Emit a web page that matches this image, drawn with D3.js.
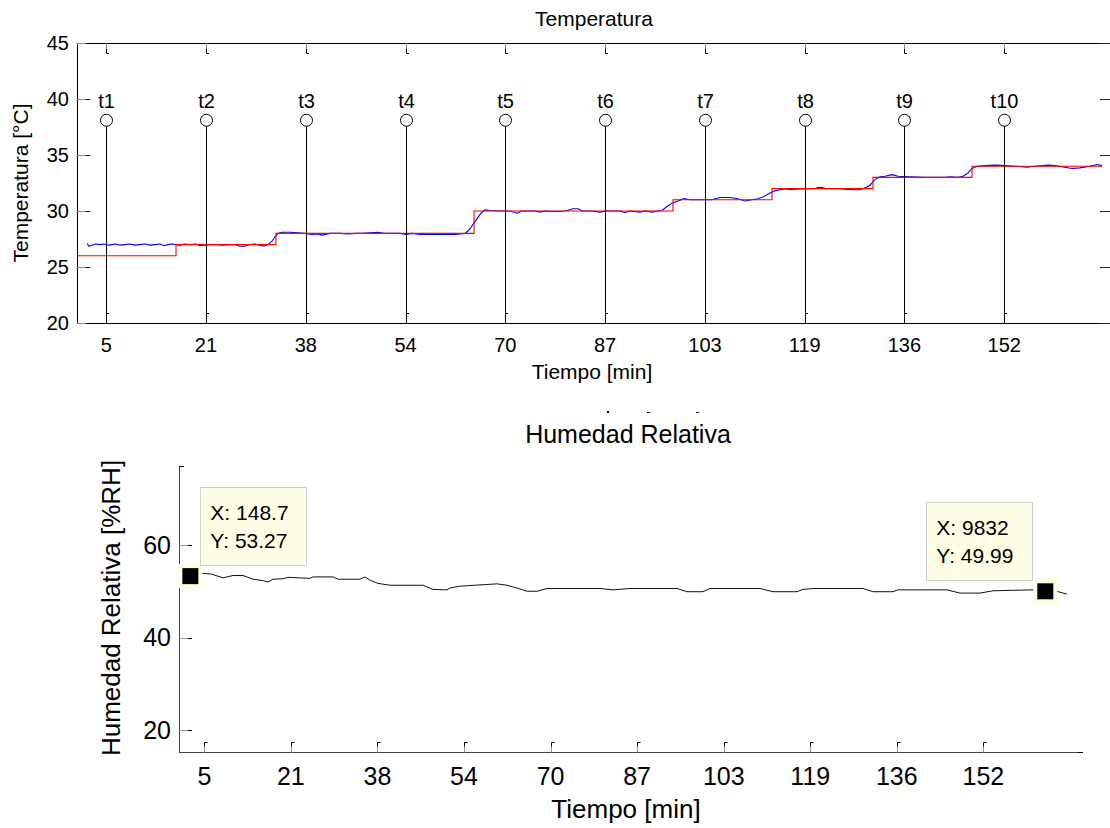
<!DOCTYPE html>
<html><head><meta charset="utf-8">
<script src="https://cdn.jsdelivr.net/npm/d3@7/dist/d3.min.js"></script>
<style>
body{margin:0;background:#fff}
svg{display:block;font-family:"Liberation Sans",Arial,Helvetica,sans-serif}
</style>
</head><body>
<svg id="c" width="1110" height="828"></svg>
<script>
// ---------- data ----------
const tickIdx = [307,1287,2268,3248,4229,5209,6190,7170,8150,9131];
const tickLabels = ["5","21","38","54","70","87","103","119","136","152"];
const stemLabels = ["t1","t2","t3","t4","t5","t6","t7","t8","t9","t10"];
const stemValue = 38.1;
const tempTicks = [20,25,30,35,40,45];
const humTicks = [20,40,60];

const setIdx = [20,993,1975,3921,5876,6849,7841,8814,10091];
const setVal = [26,27,28,30,31,32,33,34,34];

const tempIdx = [118,138,167,207,246,285,325,364,403,442,492,541,590,639,688,737,786,835,875,914,953,993,1032,1081,1130,1189,1228,1268,1327,1405,1445,1504,1572,1621,1671,1720,1769,1818,1857,1897,1936,1965,1995,2034,2113,2191,2260,2329,2388,2427,2506,2604,2683,2751,2820,2899,2977,3036,3193,3252,3311,3390,3488,3586,3734,3832,3871,3911,3950,3989,4029,4078,4176,4274,4343,4392,4520,4569,4618,4716,4815,4893,4942,4982,5080,5159,5218,5355,5404,5453,5552,5601,5670,5729,5768,5817,5866,5925,5984,6043,6141,6259,6338,6436,6514,6583,6652,6711,6770,6829,6879,6928,6977,7026,7075,7173,7271,7301,7340,7379,7517,7566,7664,7713,7772,7811,7861,7910,7959,8028,8087,8205,8352,8549,8598,8677,8726,8775,8814,8863,8941,9040,9138,9236,9354,9432,9560,9629,9727,9796,9874,9972,10041,10091];
const tempVal = [27.1,26.85,26.95,27.05,27.0,27.05,26.95,27.0,27.05,26.95,27.0,27.05,26.95,27.0,27.05,26.95,27.0,27.05,26.9,27.0,27.05,27.0,26.95,27.05,27.0,27.05,26.9,26.95,27.0,27.0,26.95,27.0,27.0,26.85,26.85,27.0,27.05,26.95,26.85,27.0,27.3,27.7,28.0,28.1,28.1,28.05,28.0,27.9,27.95,27.85,28.0,28.0,27.95,28.0,28.0,28.05,28.1,28.0,28.0,27.9,28.0,27.9,27.9,27.9,27.9,28.0,28.3,28.8,29.3,29.8,30.1,30.05,30.0,30.0,29.8,30.0,30.0,29.9,30.0,29.95,30.0,30.2,30.2,30.0,30.0,29.9,30.0,30.0,29.85,30.0,29.9,30.0,29.9,30.0,30.05,30.4,30.7,30.9,31.1,31.0,31.0,31.0,31.2,31.2,31.1,30.9,31.0,31.1,31.3,31.6,31.8,31.9,32.0,31.9,31.95,32.0,32.0,32.1,32.1,32.0,32.0,31.95,31.9,31.9,32.1,32.3,32.8,33.05,33.1,33.25,33.1,33.05,33.0,33.0,33.05,33.0,33.1,33.4,33.8,34.0,34.05,34.1,34.05,34.0,33.9,34.0,34.1,34.05,33.9,33.8,33.85,34.0,34.15,34.05];

const humIdx = [149,269,390,518,632,745,858,971,1028,1085,1198,1255,1504,1538,1764,1821,2070,2127,2183,2274,2410,2784,2897,3055,3089,3203,3622,3735,3848,3961,4075,4188,4788,4935,5128,5660,5774,5955,6034,6600,6748,7020,7087,7201,7767,7880,8107,8163,8718,8866,9092,9239,9692,9832,9975,10077];
const humVal = [53.27,53.9,53.7,52.9,53.4,53.4,52.6,52.3,52.0,52.6,52.7,53.0,52.8,53.1,53.1,52.6,52.6,53.1,52.4,51.7,51.3,51.3,50.4,50.3,50.7,51.1,51.6,51.3,50.7,50.0,50.0,50.6,50.6,50.3,50.6,50.6,49.9,49.9,50.6,50.6,49.9,49.9,50.4,50.6,50.6,49.9,49.9,50.3,50.3,49.6,49.6,50.1,50.3,49.99,49.9,49.4];

const tipX = [148.7, 9832];
const tipY = [53.27, 49.99];
const tipText = [["X: 148.7","Y: 53.27"],["X: 9832","Y: 49.99"]];

// ---------- drawing ----------
const svg = d3.select("#c");
const FONT_T = 20, FONT_B = 25;

// ===== Top chart =====
const xT = d3.scaleLinear().domain([20,10150]).range([77,1108]);
const yT = d3.scaleLinear().domain([20,45]).range([323,43]);
const gT = svg.append("g");

// box
gT.append("path").attr("d","M77.5,43.5H1112M77.5,43.5V323.5M77.5,323.5H1112")
  .attr("stroke","#000").attr("fill","none").attr("shape-rendering","crispEdges");

// y ticks
tempTicks.forEach(v=>{
  const y = Math.round(yT(v))+0.5;
  gT.append("line").attr("x1",77).attr("x2",89).attr("y1",y).attr("y2",y).attr("stroke","#888");
  gT.append("line").attr("x1",86).attr("x2",90).attr("y1",y).attr("y2",y).attr("stroke","#000");
  gT.append("line").attr("x1",1100).attr("x2",1110).attr("y1",y).attr("y2",y).attr("stroke","#222");
  gT.append("text").attr("x",69).attr("y",yT(v)).attr("dy","0.35em").attr("text-anchor","end")
    .attr("font-size",FONT_T).text(v);
});
// x ticks
tickIdx.forEach((t,i)=>{
  const x = Math.round(xT(t))+0.5;
  gT.append("line").attr("x1",x).attr("x2",x).attr("y1",43).attr("y2",53).attr("stroke","#888");
  gT.append("path").attr("d",`M${x},49V53.5H${x+2.5}`).attr("stroke","#000").attr("fill","none");
  gT.append("line").attr("x1",x).attr("x2",x).attr("y1",323).attr("y2",313).attr("stroke","#888");
  gT.append("path").attr("d",`M${x},317V313.5H${x+2.5}`).attr("stroke","#000").attr("fill","none");
  gT.append("text").attr("x",xT(t)).attr("y",352).attr("text-anchor","middle")
    .attr("font-size",FONT_T).text(tickLabels[i]);
});

// blue measured temperature
gT.append("path").datum(tempIdx.map((d,i)=>[d,tempVal[i]]))
  .attr("d",d3.line().x(d=>xT(d[0])).y(d=>yT(d[1])))
  .attr("fill","none").attr("stroke","#0000ff").attr("stroke-width",1.1);
// red set point
gT.append("path").datum(setIdx.map((d,i)=>[d,setVal[i]]))
  .attr("d",d3.line().curve(d3.curveStepAfter).x(d=>xT(d[0])).y(d=>yT(d[1])))
  .attr("fill","none").attr("stroke","#ff0000").attr("stroke-width",1.1);

// stems
tickIdx.forEach((t,i)=>{
  const x = Math.round(xT(t))+0.5, cy = yT(stemValue);
  gT.append("line").attr("x1",x).attr("x2",x).attr("y1",yT(20)).attr("y2",cy+6).attr("stroke","#000");
  gT.append("circle").attr("cx",x).attr("cy",cy).attr("r",6).attr("fill","none").attr("stroke","#000");
  gT.append("text").attr("x",x).attr("y",cy-12).attr("text-anchor","middle")
    .attr("font-size",FONT_T).text(stemLabels[i]);
});

// labels
gT.append("text").attr("x",594).attr("y",26).attr("text-anchor","middle").attr("font-size",21).text("Temperatura");
gT.append("text").attr("x",592).attr("y",379).attr("text-anchor","middle").attr("font-size",21).text("Tiempo [min]");
gT.append("text").attr("transform","translate(28,183) rotate(-90)").attr("text-anchor","middle")
  .attr("font-size",21).text("Temperatura [°C]");

// stray marks between plots
[[607,411,2,2],[647,412,3,1],[696,412,3,1]].forEach(r=>{
  svg.append("rect").attr("x",r[0]).attr("y",r[1]).attr("width",r[2]).attr("height",r[3]).attr("fill","#000");
});

// ===== Bottom chart =====
const xH = d3.scaleLinear().domain([20,10225]).range([179,1080]);
const yH = d3.scaleLinear().domain([20,60]).range([730,545]);
const gH = svg.append("g");
const yTop = Math.round(yH(77))+0.5, yBot = Math.round(yH(15.2))+0.5;

gH.append("path").attr("d",`M179.5,${yTop}V${yBot}H1080`).attr("stroke","#444").attr("fill","none")
  .attr("shape-rendering","crispEdges");
gH.append("line").attr("x1",179).attr("x2",184).attr("y1",yTop).attr("y2",yTop).attr("stroke","#000");
gH.append("line").attr("x1",1078).attr("x2",1083).attr("y1",yBot).attr("y2",yBot).attr("stroke","#000");

humTicks.forEach(v=>{
  const y = Math.round(yH(v))+0.5;
  gH.append("line").attr("x1",179).attr("x2",192).attr("y1",y).attr("y2",y).attr("stroke","#999");
  gH.append("line").attr("x1",188).attr("x2",192).attr("y1",y).attr("y2",y).attr("stroke","#000");
  gH.append("text").attr("x",171).attr("y",yH(v)).attr("dy","0.35em").attr("text-anchor","end")
    .attr("font-size",FONT_B).text(v);
});
tickIdx.forEach((t,i)=>{
  const x = Math.round(xH(t))+0.5;
  gH.append("line").attr("x1",x).attr("x2",x).attr("y1",yBot).attr("y2",yBot-10).attr("stroke","#999");
  gH.append("path").attr("d",`M${x},${yBot-6}V${yBot-10}H${x+3}`).attr("stroke","#000").attr("fill","none");
  gH.append("text").attr("x",xH(t)).attr("y",785).attr("text-anchor","middle")
    .attr("font-size",FONT_B).text(tickLabels[i]);
});

gH.append("path").datum(humIdx.map((d,i)=>[d,humVal[i]]))
  .attr("d",d3.line().x(d=>xH(d[0])).y(d=>yH(d[1])))
  .attr("fill","none").attr("stroke","#111").attr("stroke-width",1);

// data tips
tipX.forEach((tx,i)=>{
  const mx = xH(tx), my = yH(tipY[i]);
  gH.append("rect").attr("x",mx-12).attr("y",my-12).attr("width",24).attr("height",24).attr("fill","#ffffe0");
  gH.append("rect").attr("x",mx-8).attr("y",my-8).attr("width",16).attr("height",16).attr("fill","#000");
  const w = 106, h = 78;
  const bx = (mx < 600) ? mx + 10 : mx - 13 - w;
  const by = my - 11 - h;
  gH.append("rect").attr("x",Math.round(bx)+0.5).attr("y",Math.round(by)+0.5).attr("width",w).attr("height",h)
    .attr("fill","#ffffe5").attr("stroke","#cfcfcf");
  tipText[i].forEach((s,j)=>{
    gH.append("text").attr("x",bx+10).attr("y",by+33+28*j).attr("font-size",21).text(s);
  });
});

gH.append("text").attr("x",628).attr("y",443).attr("text-anchor","middle").attr("font-size",25).text("Humedad Relativa");
gH.append("text").attr("x",626).attr("y",818).attr("text-anchor","middle").attr("font-size",26).text("Tiempo [min]");
gH.append("text").attr("transform","translate(120,608) rotate(-90)").attr("text-anchor","middle")
  .attr("font-size",26).text("Humedad Relativa [%RH]");
</script>
</body></html>
